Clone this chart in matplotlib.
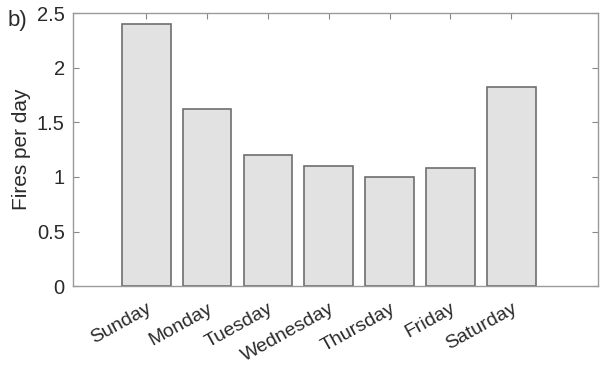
import matplotlib
matplotlib.use("Agg")
import matplotlib.pyplot as plt
from matplotlib.transforms import ScaledTranslation

days = ["Sunday", "Monday", "Tuesday", "Wednesday", "Thursday", "Friday", "Saturday"]
fires_per_day = [2.40, 1.62, 1.20, 1.10, 1.00, 1.08, 1.82]
yticks = [0, 0.5, 1, 1.5, 2, 2.5]
ytick_labels = ["0", "0.5", "1", "1.5", "2", "2.5"]

plt.rcParams['font.family'] = ['Liberation Sans', 'DejaVu Sans']

fig = plt.figure(figsize=(6, 3.65), dpi=100)
fig.patch.set_facecolor("white")
ax = fig.add_axes([0.122, 0.216, 0.875, 0.748])

x = list(range(1, len(days) + 1))
ax.bar(x, fires_per_day, width=0.8, color="#e2e2e2", edgecolor="#6e6e6e", linewidth=1.2, zorder=2)

ax.set_xlim(-0.2, 8.43)
ax.set_ylim(0, 2.5)
ax.set_yticks(yticks)
ax.set_yticklabels(ytick_labels, fontsize=14.5, color="#2a2a2a")
ax.set_xticks(x)
ax.set_xticklabels(days, fontsize=14, color="#2a2a2a", rotation=29, ha="right", va="top",
                   rotation_mode="anchor")
offset = ScaledTranslation(0.16, 0.0, fig.dpi_scale_trans)
for lab in ax.get_xticklabels():
    lab.set_transform(lab.get_transform() + offset)
ax.tick_params(axis="both", direction="in", length=4, color="#888888", width=0.8,
               top=True, right=True)
ax.tick_params(axis="x", pad=10)
ax.tick_params(axis="y", pad=6)
for s in ax.spines.values():
    s.set_color("#9a9a9a")
    s.set_linewidth(1.0)
ax.set_ylabel("Fires per day", fontsize=15, color="#2a2a2a", labelpad=4)
fig.text(0.012, 0.945, "b)", fontsize=16, color="#2a2a2a", va="center", ha="left")

fig.savefig("out.png", dpi=100, facecolor="white")
